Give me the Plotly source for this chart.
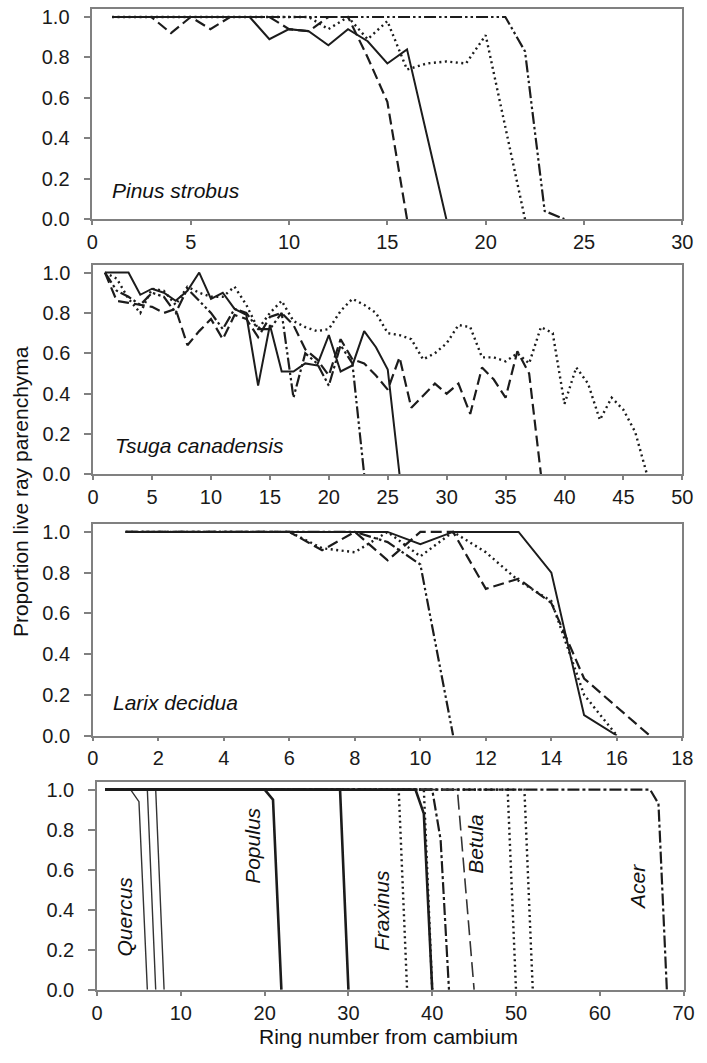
import plotly.graph_objects as go

# ---------------- Data ----------------
# Panel 1: Pinus strobus
pinus_rings_solid = list(range(1, 19))
pinus_solid = [1, 1, 1, 1, 1, 1, 1, 1, 0.89, 0.94, 0.93, 0.86, 0.94, 0.88, 0.77, 0.84, 0.42, 0.0]
pinus_rings_dashed = list(range(1, 17))
pinus_dashed = [1, 1, 1, 0.92, 1, 0.94, 1, 1, 1, 0.94, 0.93, 1, 1, 0.80, 0.58, 0.0]
pinus_rings_dotted = list(range(1, 23))
pinus_dotted = [1, 1, 1, 1, 1, 1, 1, 1, 1, 1, 1, 0.94, 1.0, 0.89, 0.98, 0.74, 0.77, 0.78, 0.77, 0.91, 0.45, 0.0]
pinus_rings_dashdot = list(range(1, 25))
pinus_dashdot = [1, 1, 1, 1, 1, 1, 1, 1, 1, 1, 1, 1, 1, 1, 1, 1, 1, 1, 1, 1, 1, 0.83, 0.04, 0.0]

# Panel 2: Tsuga canadensis
tsuga_rings_solid = list(range(1, 27))
tsuga_solid = [1, 1, 1, 0.89, 0.92, 0.90, 0.86, 0.91, 1.0, 0.87, 0.90, 0.82, 0.79, 0.44, 0.74, 0.51,
               0.51, 0.55, 0.54, 0.69, 0.51, 0.54, 0.71, 0.63, 0.52, 0.0]
tsuga_rings_dashed = list(range(1, 39))
tsuga_dashed = [1, 0.86, 0.85, 0.84, 0.83, 0.80, 0.82, 0.64, 0.71, 0.77, 0.67, 0.79, 0.77, 0.68, 0.78,
                0.80, 0.74, 0.62, 0.57, 0.49, 0.67, 0.57, 0.55, 0.49, 0.42, 0.58, 0.33, 0.39, 0.45,
                0.40, 0.45, 0.30, 0.53, 0.47, 0.38, 0.61, 0.50, 0.0]
tsuga_rings_dotted = list(range(1, 48))
tsuga_dotted = [1, 0.97, 0.87, 0.80, 0.92, 0.91, 0.84, 0.93, 0.90, 0.88, 0.88, 0.93, 0.84, 0.72, 0.80,
                0.86, 0.76, 0.73, 0.71, 0.72, 0.81, 0.87, 0.84, 0.80, 0.70, 0.69, 0.67, 0.57, 0.60,
                0.65, 0.74, 0.73, 0.58, 0.58, 0.56, 0.60, 0.55, 0.73, 0.70, 0.35, 0.53, 0.45, 0.27,
                0.38, 0.32, 0.21, 0.0]
tsuga_rings_dashdot = list(range(1, 24))
tsuga_dashdot = [1, 0.91, 0.88, 0.84, 0.90, 0.88, 0.80, 0.92, 0.86, 0.80, 0.72, 0.82, 0.80, 0.72, 0.72,
                 0.80, 0.38, 0.60, 0.55, 0.44, 0.64, 0.55, 0.0]

# Panel 3: Larix decidua
larix_rings_solid = list(range(1, 17))
larix_solid = [1, 1, 1, 1, 1, 1, 1, 1, 1, 0.94, 1, 1, 1, 0.80, 0.10, 0.0]
larix_rings_dashed = list(range(1, 18))
larix_dashed = [1, 1, 1, 1, 1, 1, 0.91, 1, 0.86, 1, 1, 0.72, 0.77, 0.65, 0.28, 0.14, 0.0]
larix_rings_dotted = list(range(1, 17))
larix_dotted = [1, 1, 1, 1, 1, 1, 0.92, 0.90, 1, 0.88, 1, 0.90, 0.76, 0.66, 0.20, 0.0]
larix_rings_dashdot = list(range(1, 12))
larix_dashdot = [1, 1, 1, 1, 1, 1, 1, 1, 0.95, 0.84, 0.0]

# Panel 4: hardwoods (key points of each tree's curve)
quercus_x = [[1, 4, 5, 6], [1, 6, 7], [1, 7, 8]]
quercus_y = [[1, 1, 0.94, 0.0], [1, 1, 0.0], [1, 1, 0.0]]
populus_x = [[1, 20, 21, 22], [1, 29, 30], [1, 38, 39, 40]]
populus_y = [[1, 1, 0.95, 0.0], [1, 1, 0.0], [1, 1, 0.88, 0.0]]
fraxinus_x = [[1, 36, 37], [1, 39, 40], [1, 49, 50], [1, 51, 52]]
fraxinus_y = [[1, 1, 0.0], [1, 1, 0.0], [1, 1, 0.0], [1, 1, 0.0]]
betula_x = [[1, 43, 44, 45]]
betula_y = [[1, 1, 0.50, 0.0]]
acer_x = [[1, 40, 41, 42], [1, 66, 67, 68]]
acer_y = [[1, 1, 0.75, 0.0], [1, 1, 0.93, 0.0]]

species_labels = ["Pinus strobus", "Tsuga canadensis", "Larix decidua"]
hardwood_labels = ["Quercus", "Populus", "Fraxinus", "Betula", "Acer"]
x_ranges = [[0, 30], [0, 50], [0, 18], [0, 70]]
x_dticks = [5, 5, 2, 10]
y_title = "Proportion live ray parenchyma"
x_title = "Ring number from cambium"

# ---------------- Styles ----------------
C = "#1c1c1c"
FONT = "Liberation Sans, Arial, sans-serif"
SOLID = dict(color=C, width=2.0)
DASH = dict(color=C, width=2.2, dash="11px,5px")
DOT = dict(color=C, width=2.4, dash="2px,3.5px")
DASHDOTDOT = dict(color=C, width=2.2, dash="12px,3px,2.5px,3px,2.5px,3px")
DASHDOT = dict(color=C, width=2.2, dash="12px,3px,3px,3px")
THIN = dict(color="#333333", width=1.4)
THICK = dict(color=C, width=2.6)
LONGDASH = dict(color="#333333", width=1.6, dash="15px,6px")

fig = go.Figure()

def add(x, y, line, ax):
    fig.add_trace(go.Scatter(x=x, y=y, mode="lines", line=line,
                             xaxis="x" + ("" if ax == 1 else str(ax)),
                             yaxis="y" + ("" if ax == 1 else str(ax)),
                             showlegend=False, hoverinfo="skip"))

# panel 1
add(pinus_rings_dashdot, pinus_dashdot, DASHDOTDOT, 1)
add(pinus_rings_dotted, pinus_dotted, DOT, 1)
add(pinus_rings_dashed, pinus_dashed, DASH, 1)
add(pinus_rings_solid, pinus_solid, SOLID, 1)
# panel 2
add(tsuga_rings_dashdot, tsuga_dashdot, DASHDOTDOT, 2)
add(tsuga_rings_dotted, tsuga_dotted, DOT, 2)
add(tsuga_rings_dashed, tsuga_dashed, DASH, 2)
add(tsuga_rings_solid, tsuga_solid, SOLID, 2)
# panel 3
add(larix_rings_dashdot, larix_dashdot, DASHDOTDOT, 3)
add(larix_rings_dotted, larix_dotted, DOT, 3)
add(larix_rings_dashed, larix_dashed, DASH, 3)
add(larix_rings_solid, larix_solid, SOLID, 3)
# panel 4
for xs, ys in zip(acer_x, acer_y):
    add(xs, ys, DASHDOT, 4)
for xs, ys in zip(fraxinus_x, fraxinus_y):
    add(xs, ys, DOT, 4)
for xs, ys in zip(betula_x, betula_y):
    add(xs, ys, LONGDASH, 4)
for xs, ys in zip(quercus_x, quercus_y):
    add(xs, ys, THIN, 4)
for xs, ys in zip(populus_x, populus_y):
    add(xs, ys, THICK, 4)

W, H = 707, 1063
# pixel geometry of plot areas: (left, right, top, bottom)
boxes = [(88.5, 693, 6, 219), (89.3, 693, 265, 477.7), (89, 693, 527.7, 742.3), (93.3, 694.3, 789, 1000)]

layout = dict(width=W, height=H, margin=dict(l=0, r=0, t=0, b=0),
              paper_bgcolor="white", plot_bgcolor="white", autosize=False)
axline = "#808080"
for i, (l, r, t, b) in enumerate(boxes):
    sfx = "" if i == 0 else str(i + 1)
    layout["xaxis" + sfx] = dict(
        domain=[l / W, r / W], range=x_ranges[i], dtick=x_dticks[i], tick0=0,
        anchor="y" + sfx, showline=True, mirror=True, linecolor=axline, linewidth=1.6,
        ticks="outside", ticklen=4, tickwidth=1.5, tickcolor=axline,
        showgrid=False, zeroline=False,
        tickfont=dict(family=FONT, size=20, color="#1a1a1a"))
    layout["yaxis" + sfx] = dict(
        domain=[1 - b / H, 1 - t / H], range=[0, 1.04], dtick=0.2, tick0=0, tickformat=".1f",
        anchor="x" + sfx, showline=True, mirror=True, linecolor=axline, linewidth=1.6,
        ticks="outside", ticklen=7, tickwidth=1.5, tickcolor=axline,
        showgrid=False, zeroline=False, ticklabelstandoff=10,
        tickfont=dict(family=FONT, size=20, color="#1a1a1a"))

ann = []
label_pos = [(0.030, 0.136), (0.033, 0.138), (0.030, 0.158)]
for i, (name, (ax_, ay_)) in enumerate(zip(species_labels, label_pos)):
    sfx = "" if i == 0 else str(i + 1)
    ann.append(dict(text=name, xref="x" + sfx + " domain", yref="y" + sfx + " domain",
                    x=ax_, y=ay_, xanchor="left", yanchor="middle", showarrow=False,
                    font=dict(family=FONT, size=21, color="#111", style="italic")))
hw_pos = [(0.0473, 0.351), (0.266, 0.692), (0.486, 0.379), (0.645, 0.703), (0.921, 0.495)]
for name, (ax_, ay_) in zip(hardwood_labels, hw_pos):
    ann.append(dict(text=name, xref="x4 domain", yref="y4 domain", x=ax_, y=ay_,
                    xanchor="center", yanchor="middle", textangle=-90, showarrow=False,
                    font=dict(family=FONT, size=21, color="#111", style="italic")))
ann.append(dict(text=y_title, xref="paper", yref="paper", x=15 / W, y=1 - 495 / H,
                xanchor="center", yanchor="middle", textangle=-90, showarrow=False,
                font=dict(family=FONT, size=21, color="#111")))
ann.append(dict(text=x_title, xref="paper", yref="paper", x=392 / W, y=1 - 1047 / H,
                xanchor="center", yanchor="middle", showarrow=False,
                font=dict(family=FONT, size=21, color="#111")))
layout["annotations"] = ann

fig.update_layout(**layout)
fig.write_html("out.html", config={"displayModeBar": False},
               post_script="document.body.style.margin='0';document.body.style.overflow='hidden';")
